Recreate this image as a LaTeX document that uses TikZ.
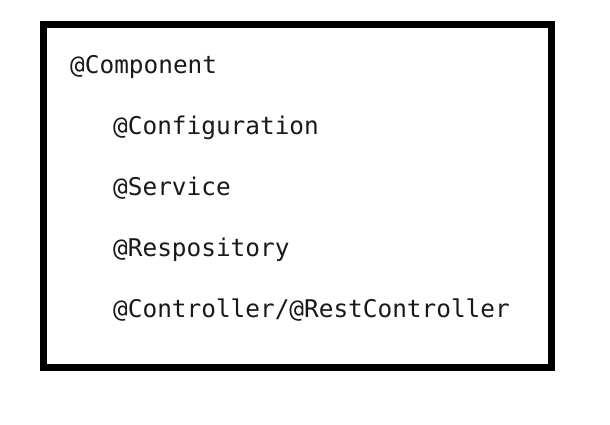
\documentclass[tikz,border=0pt]{standalone}
\usepackage{fontspec}
\setmonofont{DejaVu Sans Mono}
\begin{document}
\begin{tikzpicture}[x=1pt,y=-1pt,
  anno/.style={anchor=base west,inner sep=0pt,font=\ttfamily\fontsize{24.4}{28}\selectfont,text=black!90}]
\useasboundingbox[fill=white] (0,0) rectangle (610,424);
\node[draw=black,line width=7pt,minimum width=508pt,minimum height=343pt,inner sep=0pt,outer sep=0pt,anchor=north west] (box) at (43,24) {};
\node[anno] (comp) at (70,73) {@Component};
\node[anno] (conf) at (113,134) {@Configuration};
\node[anno] (serv) at (113,195) {@Service};
\node[anno] (repo) at (113,256) {@Respository};
\node[anno] (ctrl) at (113,317) {@Controller/@RestController};
\end{tikzpicture}
\end{document}
